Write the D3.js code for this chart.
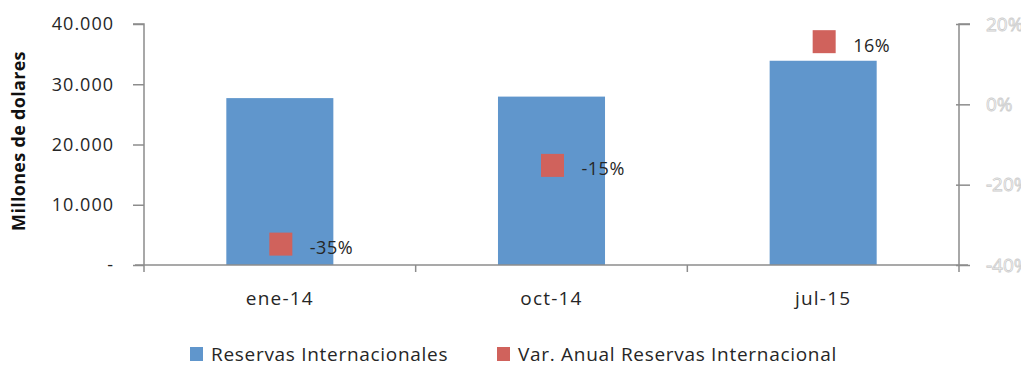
<!DOCTYPE html>
<html>
<head>
<meta charset="utf-8">
<script src="https://cdn.jsdelivr.net/npm/d3@7"></script>
<style>
  html, body { margin: 0; padding: 0; background: #fff; }
  svg { display: block; font-family: "Open Sans", Lato, sans-serif; }
</style>
</head>
<body>
<svg id="chart" width="1021" height="365"></svg>
<script>
// Reservas internacionales (millones de dólares) y su variación anual
const categories = ["ene-14", "oct-14", "jul-15"];
const reservas = [27700, 27950, 33900];
const variacion = [-0.348, -0.152, 0.156];
const leftTicks = [0, 10000, 20000, 30000, 40000];
const rightTicks = [-0.4, -0.2, 0, 0.2];
const seriesNames = ["Reservas Internacionales", "Var. Anual Reservas Internacional"];

const colors = { bar: "#6096cc", marker: "#d0625c", axis: "#8c8c8c", text: "#262626" };
const font = "Open Sans";

const svg = d3.select("#chart");
const plot = { left: 144, right: 959, top: 24, bottom: 265 };

const x = d3.scaleBand()
  .domain(categories)
  .range([plot.left, plot.right])
  .paddingInner(0.606)
  .paddingOuter(0.303);

const xTicks = d3.scaleBand().domain(categories).range([plot.left, plot.right]);

const yLeft = d3.scaleLinear().domain([0, 40000]).range([plot.bottom, plot.top]);
const yRight = d3.scaleLinear().domain([-0.4, 0.2]).range([plot.bottom, plot.top]);

// Spanish number style, with a plain hyphen for negatives
const es = d3.formatLocale({ decimal: ",", thousands: ".", grouping: [3], currency: ["$", ""], minus: "-" });
const fmtThousands = es.format(",");
const fmtPct = es.format(".0%");

// Bars
svg.append("g").selectAll("rect")
  .data(reservas)
  .join("rect")
  .attr("x", (d, i) => x(categories[i]))
  .attr("y", d => yLeft(d))
  .attr("width", x.bandwidth())
  .attr("height", d => yLeft(0) - yLeft(d))
  .attr("fill", colors.bar);

// Left axis
const gLeft = svg.append("g")
  .attr("transform", `translate(${plot.left},0)`)
  .call(d3.axisLeft(yLeft).tickValues(leftTicks).tickSize(11).tickPadding(19)
    .tickFormat(d => d === 0 ? "-" : fmtThousands(d)));
gLeft.selectAll("path, line").attr("stroke", colors.axis).attr("stroke-width", 1.5);
gLeft.select(".domain").attr("d", `M-11,${plot.top}H0V${plot.bottom}`);
gLeft.selectAll("text").attr("fill", colors.text)
  .style("font-size", "18px").style("font-family", font).style("letter-spacing", "1px");

// Right axis with pale outlined labels
const gRight = svg.append("g")
  .attr("transform", `translate(${plot.right},0)`)
  .call(d3.axisRight(yRight).tickValues(rightTicks).tickSize(11).tickPadding(16)
    .tickFormat(fmtPct));
gRight.selectAll("path, line").attr("stroke", colors.axis).attr("stroke-width", 1.5);
gRight.select(".domain").attr("d", `M11,${plot.top}H0V${plot.bottom}`);
gRight.selectAll(".tick line").attr("x1", -3);
gRight.selectAll("text")
  .attr("fill", "#ffffff")
  .attr("stroke", "#cccccc")
  .attr("stroke-width", 0.8)
  .style("font-size", "19px").style("font-family", font);

// Bottom axis
const gBottom = svg.append("g")
  .attr("transform", `translate(0,${plot.bottom})`);
gBottom.append("line")
  .attr("x1", plot.left - 9).attr("x2", plot.right + 9)
  .attr("stroke", colors.axis).attr("stroke-width", 1.5);
const boundaries = categories.map(c => xTicks(c)).concat([plot.right]);
gBottom.selectAll("line.tk")
  .data(boundaries)
  .join("line")
  .attr("class", "tk")
  .attr("x1", d => d).attr("x2", d => d)
  .attr("y1", 0).attr("y2", 7)
  .attr("stroke", colors.axis).attr("stroke-width", 1.5);
gBottom.selectAll("text")
  .data(categories)
  .join("text")
  .attr("x", d => x(d) + x.bandwidth() / 2)
  .attr("y", 40)
  .attr("text-anchor", "middle")
  .attr("fill", colors.text)
  .style("font-size", "19px")
  .style("letter-spacing", "1.2px")
  .text(d => d);

// Markers for annual variation
const sq = 23;
svg.append("g").selectAll("rect")
  .data(variacion)
  .join("rect")
  .attr("x", (d, i) => x(categories[i]) + x.bandwidth() / 2 - sq / 2 + 1)
  .attr("y", d => yRight(d) - sq / 2)
  .attr("width", sq)
  .attr("height", sq)
  .attr("fill", colors.marker);

svg.append("g").selectAll("text")
  .data(variacion)
  .join("text")
  .attr("x", (d, i) => x(categories[i]) + x.bandwidth() / 2 + 30)
  .attr("y", d => yRight(d) + 10)
  .attr("fill", colors.text)
  .style("font-size", "18px")
  .style("letter-spacing", "0.5px")
  .text(d => fmtPct(d));

// Axis title
svg.append("text")
  .attr("transform", "translate(25,141) rotate(-90)")
  .attr("text-anchor", "middle")
  .attr("fill", "#111")
  .style("font-size", "18px")
  .style("font-weight", "bold")
  .style("letter-spacing", "0.3px")
  .text("Millones de dolares");

// Legend
const legendItems = [
  { name: seriesNames[0], color: colors.bar, x: 190 },
  { name: seriesNames[1], color: colors.marker, x: 497 }
];
const lg = svg.append("g").selectAll("g")
  .data(legendItems)
  .join("g")
  .attr("transform", d => `translate(${d.x},347)`);
lg.append("rect").attr("width", 13).attr("height", 14).attr("fill", d => d.color);
lg.append("text")
  .attr("x", 21).attr("y", 14)
  .attr("fill", colors.text)
  .style("font-size", "19px")
  .style("letter-spacing", "0.7px")
  .text(d => d.name);
</script>
</body>
</html>
